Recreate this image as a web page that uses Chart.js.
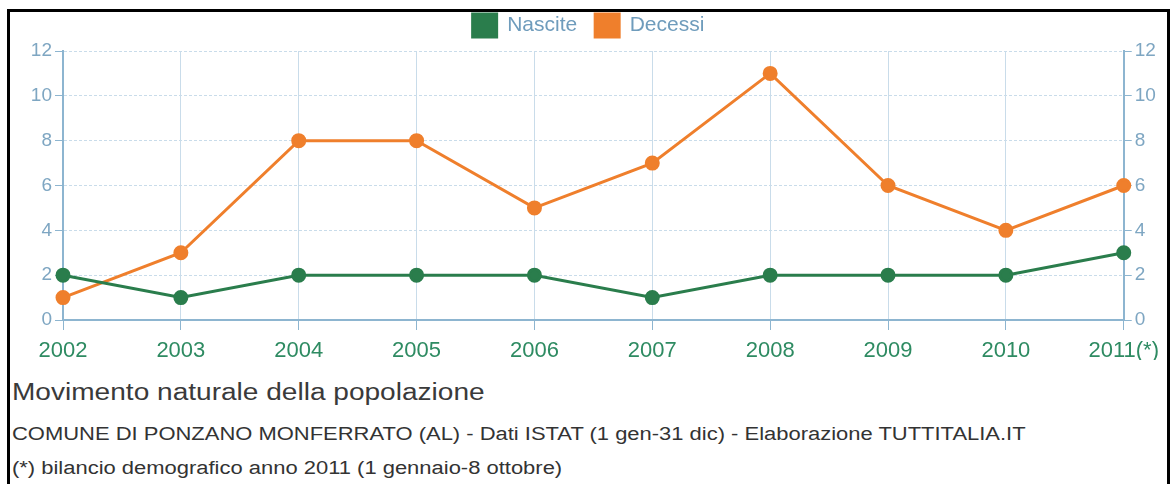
<!DOCTYPE html>
<html>
<head>
<meta charset="utf-8">
<script src="https://cdn.jsdelivr.net/npm/chart.js@4"></script>
<style>
  body { margin: 0; background: #fff; font-family: "Liberation Sans", Arial, sans-serif; }
  #frame { position: absolute; left: 7px; top: 9px; width: 1157px; height: 480px;
           border-left: 3px solid #000; border-top: 3px solid #000; border-right: 3px solid #000; }
  #wrap { position: absolute; left: 10px; top: -4px; width: 1157px; height: 364px; }
  .txt { position: absolute; left: 12px; line-height: 1; white-space: nowrap;
         transform-origin: left top; transform: scaleX(1.22); }
  .t1 { top: 381px; font-size: 23px; color: #3a3a3a; }
  .t2 { top: 425px; font-size: 18px; color: #333; }
  .t3 { top: 459px; font-size: 18px; color: #333; }
</style>
</head>
<body>
<div id="frame"></div>
<div id="wrap"><canvas id="chart"></canvas></div>
<div class="txt t1">Movimento naturale della popolazione</div>
<div class="txt t2">COMUNE DI PONZANO MONFERRATO (AL) - Dati ISTAT (1 gen-31 dic) - Elaborazione TUTTITALIA.IT</div>
<div class="txt t3">(*) bilancio demografico anno 2011 (1 gennaio-8 ottobre)</div>
<script>
// dati
var anni = ["2002", "2003", "2004", "2005", "2006", "2007", "2008", "2009", "2010", "2011(*)"];
var nascite = [2, 1, 2, 2, 2, 1, 2, 2, 2, 3];
var decessi = [1, 3, 8, 8, 5, 7, 11, 6, 4, 6];
var yTicks = [0, 2, 4, 6, 8, 10, 12];

var verde = "#2a7d4c";
var arancio = "#ef7f2c";
var asse = "#8db5d0";
var griglia = "#c9dcea";
var testoAsse = "#7ea6c2";

// ritocco dell'altezza della legenda
var legendaAlta = {
  id: "legendaAlta",
  beforeInit: function(chart) {
    if (!chart.legend) return;
    var fit = chart.legend.fit;
    chart.legend.fit = function() {
      fit.call(this);
      this.height += 4;
    };
  }
};

var ctx = document.getElementById("chart");

new Chart(ctx, {
  type: "line",
  data: {
    labels: anni,
    datasets: [
      { label: "Nascite", data: nascite, borderColor: verde, backgroundColor: verde,
        borderWidth: 3, pointRadius: 6, pointHoverRadius: 6, tension: 0 },
      { label: "Decessi", data: decessi, borderColor: arancio, backgroundColor: arancio,
        borderWidth: 3, pointRadius: 6, pointHoverRadius: 6, tension: 0 }
    ]
  },
  plugins: [legendaAlta],
  options: {
    responsive: true,
    maintainAspectRatio: false,
    animation: false,
    plugins: {
      legend: {
        labels: {
          boxWidth: 24, boxHeight: 23, padding: 18,
          color: "#6f9cbc",
          font: { family: "Liberation Sans", size: 21 }
        }
      },
      tooltip: { enabled: false }
    },
    scales: {
      x: {
        offset: false,
        grid: { color: griglia, tickLength: 10, tickColor: asse },
        border: { color: asse, width: 2 },
        ticks: { color: "#2e8b62", padding: 8, maxRotation: 0,
                 font: { family: "Liberation Sans", size: 22 } },
        afterFit: function(s) { s.height = 40; }
      },
      y: {
        min: 0, max: 12,
        afterBuildTicks: function(s) { s.ticks = yTicks.map(function(v) { return { value: v }; }); },
        grid: { color: griglia, tickLength: 8, tickColor: asse },
        border: { color: asse, width: 2, dash: [3, 2] },
        ticks: { color: testoAsse, padding: 3, font: { family: "Liberation Sans", size: 19 } },
        afterFit: function(s) { s.width = 53; }
      },
      y2: {
        position: "right",
        min: 0, max: 12,
        afterBuildTicks: function(s) { s.ticks = yTicks.map(function(v) { return { value: v }; }); },
        grid: { drawOnChartArea: false, tickLength: 8, tickColor: asse },
        border: { color: asse, width: 2 },
        ticks: { color: testoAsse, padding: 3, font: { family: "Liberation Sans", size: 19 } },
        afterFit: function(s) { s.width = 41; }
      }
    }
  }
});
</script>
</body>
</html>
